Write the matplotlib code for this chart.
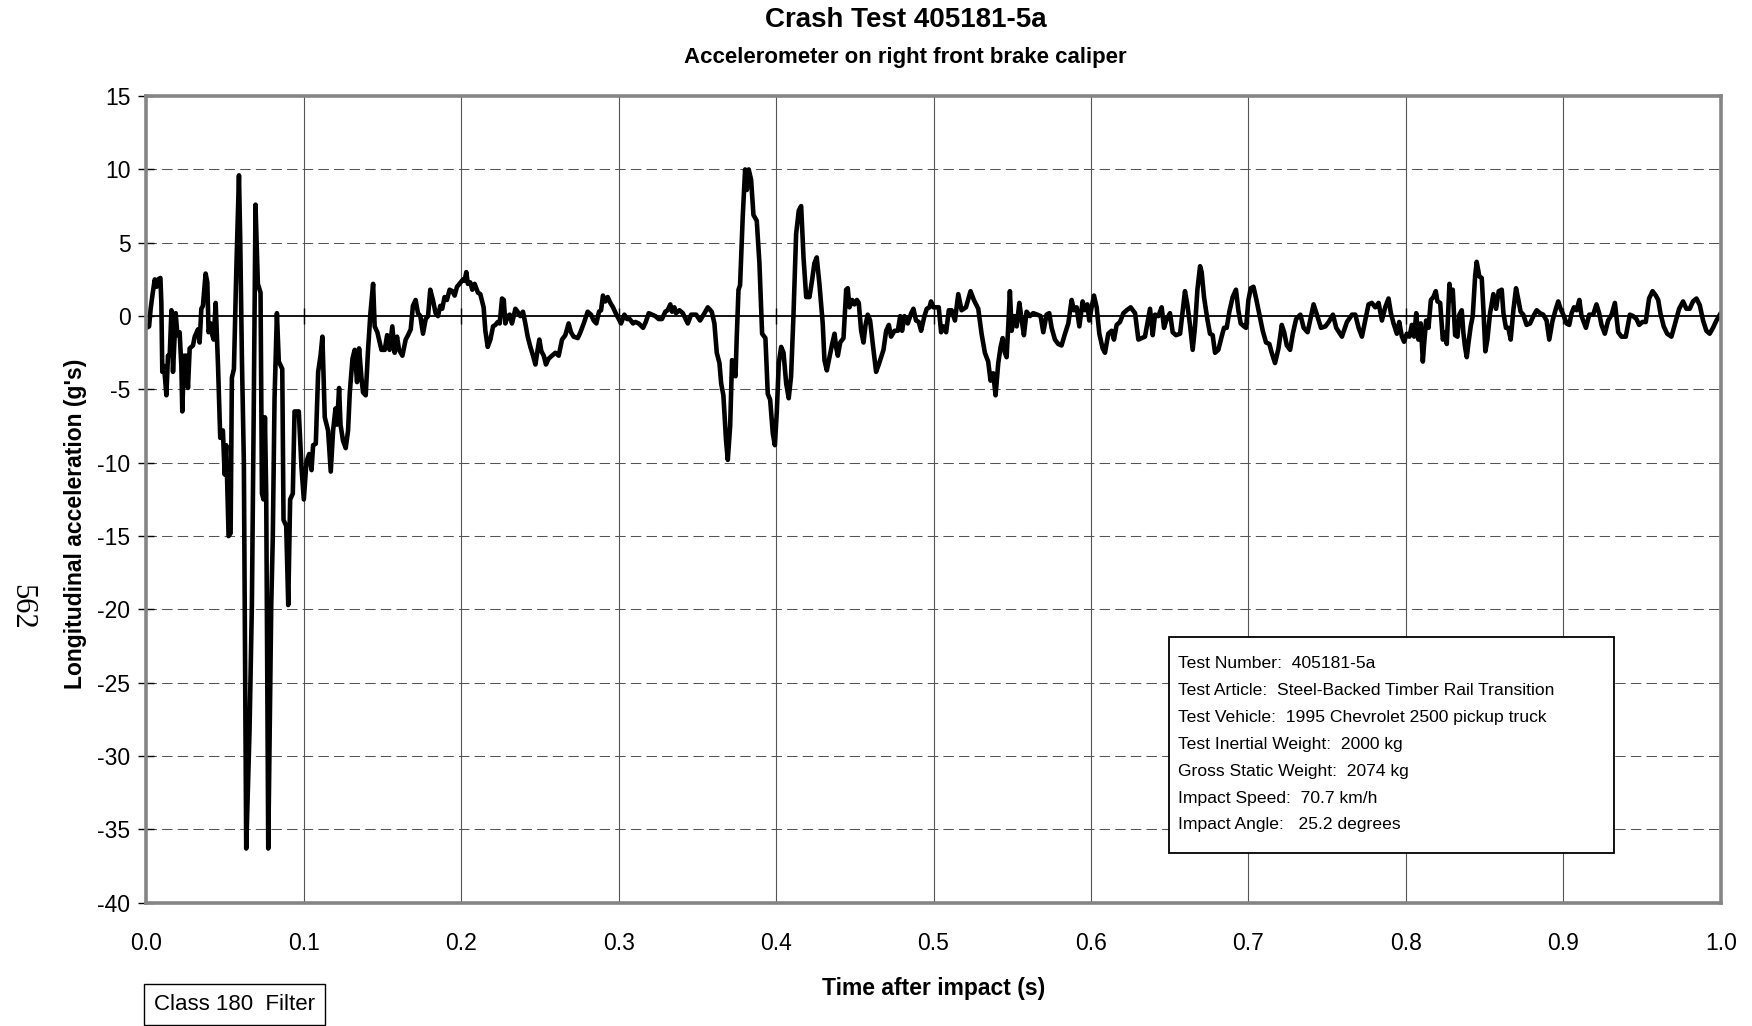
import matplotlib
matplotlib.use("Agg")
import matplotlib.pyplot as plt
from matplotlib import font_manager
from matplotlib.patches import Rectangle

plt.rcParams['font.family'] = ['Liberation Sans', 'DejaVu Sans']

# ---- data: (time s, longitudinal acceleration g) ----
seg_impact = [
    (0.0, -0.8), (.0017, -0.7), (.0027, 0.5), (.0038, 1.4), (.0053, 2.5), (.0065, 2.0),
    (.0074, 2.5), (.0089, 2.6), (.0095, 0.9), (.0101, -3.8), (.0112, -3.4), (.0127, -5.4),
    (.0137, -2.7), (.0148, -2.7), (.0159, 0.4), (.0169, -3.8), (.0186, 0.2), (.0197, -1.3),
    (.0211, -1.1), (.0222, -3.4), (.0228, -6.5), (.0239, -2.7), (.0254, -2.7), (.0264, -4.9),
    (.0275, -2.2), (.0296, -2.0), (.0307, -1.4), (.0328, -0.9), (.0338, -1.8), (.0349, 0.5),
    (.0359, 0.7), (.0376, 2.9), (.0387, 2.3), (.0395, -1.1), (.0408, -0.5), (.0419, -1.3),
    (.0427, -1.6), (.0440, 0.9), (.0455, -3.4), (.0469, -8.3), (.0486, -7.8), (.0497, -10.8),
    (.0507, -8.8), (.0522, -15.0), (.0535, -14.8), (.0543, -4.2), (.0556, -3.6), (.0571, 3.1),
    (.0588, 9.6), (.0596, 5.2), (.0607, -3.1), (.0619, -9.9), (.0634, -36.3), (.0655, -28.3),
    (.0670, -19.7), (.0681, -7.4), (.0693, 7.6), (.0708, 2.2), (.0725, 1.6), (.0734, -12.1),
    (.0744, -12.5), (.0753, -6.9), (.0761, -12.1), (.0774, -36.3), (.0793, -19.7), (.0803, -15.0),
    (.0814, -5.6), (.0829, 0.2), (.0841, -3.1), (.0863, -3.6), (.0871, -13.9), (.0888, -14.3),
    (.0901, -19.7), (.0913, -12.5), (.0930, -12.1), (.0941, -6.5), (.0968, -6.5),
]

seg_rebound = [
    (.0985, -10.3), (.1000, -12.5), (.1017, -9.9), (.1034, -9.4), (.1049, -10.5), (.1059, -8.8),
    (.1076, -8.7), (.1091, -3.8), (.1106, -2.7), (.1118, -1.4), (.1133, -6.9), (.1154, -7.8),
    (.1171, -10.6), (.1186, -7.8), (.1201, -6.3), (.1211, -7.4), (.1224, -4.9), (.1233, -7.4),
    (.1249, -8.5), (.1266, -9.0), (.1281, -7.8), (.1292, -5.2), (.1309, -2.9), (.1323, -2.3),
    (.1338, -4.5), (.1351, -2.2), (.1366, -4.2), (.1376, -5.2), (.1393, -5.4), (.1408, -2.3),
    (.1423, 0.2), (.1440, 2.2), (.1450, -0.7), (.1467, -1.1), (.1493, -2.3), (.1514, -2.3),
    (.1529, -1.3), (.1545, -2.3), (.1562, -0.7), (.1577, -2.5), (.1592, -1.4), (.1605, -2.3),
    (.1626, -2.7), (.1647, -1.6), (.1662, -1.3), (.1679, -0.9), (.1693, 0.7), (.1710, 1.1),
    (.1725, 0.2), (.1740, 0.0), (.1757, -1.2), (.1774, -0.2), (.1789, 0.0), (.1803, 1.8),
    (.1820, 1.1), (.1837, 0.2), (.1852, 0.0), (.1867, 0.7), (.1879, 0.5), (.1894, 1.3),
    (.1909, 1.1), (.1926, 1.8), (.1943, 1.7), (.1958, 1.4), (.1973, 2.0), (.1989, 2.2),
    (.2011, 2.5), (.2021, 2.4), (.2032, 3.0), (.2042, 2.2), (.2057, 2.3), (.2070, 1.8),
    (.2085, 2.2), (.2106, 1.6),
]

seg_settle = [
    (.2121, 1.5), (.2142, 0.6), (.2153, -1.0), (.2168, -2.1), (.2185, -1.6), (.2202, -0.7),
    (.2217, -0.6), (.2232, -0.4), (.2244, -0.5), (.2259, 1.2), (.2270, 1.1), (.2280, -0.5),
    (.2295, 0.0), (.2308, 0.1), (.2322, -0.5), (.2344, 0.5), (.2358, 0.3), (.2375, 0.0),
    (.2392, 0.3), (.2407, -0.5), (.2422, -1.4), (.2439, -2.1), (.2456, -2.7), (.2471, -3.3),
    (.2485, -2.3), (.2496, -1.6), (.2509, -2.4), (.2524, -2.7), (.2538, -3.3), (.2555, -2.9),
    (.2577, -2.7), (.2598, -2.5), (.2619, -2.7), (.2640, -1.6), (.2661, -1.3), (.2682, -0.5),
    (.2697, -1.1), (.2714, -1.4), (.2740, -1.5), (.2757, -1.1), (.2778, -0.5), (.2803, 0.3),
    (.2824, 0.1), (.2841, -0.3), (.2858, -0.5), (.2875, 0.3), (.2888, 0.4), (.2900, 1.4),
    (.2915, 1.0), (.2930, 1.3), (.2947, 0.9), (.2964, 0.6), (.2981, 0.2), (.3000, -0.2),
    (.3015, -0.5), (.3036, 0.1), (.3053, -0.2), (.3070, -0.2), (.3091, -0.5), (.3106, -0.4),
    (.3127, -0.5), (.3155, -0.8), (.3172, -0.4), (.3191, 0.2), (.3212, 0.1), (.3233, 0.0),
    (.3254, -0.2), (.3275, -0.2), (.3296, 0.3), (.3311, 0.4), (.3328, 0.8), (.3339, 0.3),
    (.3354, 0.6), (.3364, 0.2),
]

seg_second_hit = [
    (.3386, 0.4), (.3407, 0.2), (.3439, -0.5), (.3460, 0.1), (.3492, 0.1), (.3517, -0.3),
    (.3545, 0.2), (.3566, 0.6), (.3591, 0.3), (.3608, -0.5), (.3623, -2.5), (.3640, -3.2),
    (.3651, -4.6), (.3665, -5.4), (.3682, -8.5), (.3693, -9.8), (.3708, -7.5), (.3720, -3.0),
    (.3731, -3.5), (.3742, -4.1), (.3750, -1.4), (.3761, 1.8), (.3771, 2.1), (.3788, 6.8),
    (.3803, 10.0), (.3814, 8.6), (.3826, 10.0), (.3841, 9.3), (.3856, 6.9), (.3877, 6.5),
    (.3894, 3.6), (.3911, -1.2), (.3932, -1.5), (.3947, -5.3), (.3962, -5.7), (.3979, -8.0),
    (.3992, -8.8), (.4004, -6.6), (.4017, -3.2), (.4032, -2.1), (.4047, -2.5), (.4064, -4.6),
    (.4080, -5.6), (.4095, -4.1), (.4110, 0.0), (.4127, 5.6), (.4144, 7.2), (.4159, 7.5),
    (.4174, 4.0), (.4191, 1.3), (.4212, 1.3), (.4229, 2.5), (.4243, 3.6), (.4258, 4.0),
    (.4275, 2.2), (.4296, -0.5), (.4307, -3.0), (.4322, -3.7), (.4339, -2.8), (.4356, -1.9),
    (.4371, -1.2), (.4381, -2.1), (.4392, -2.7), (.4407, -1.8), (.4428, -1.5), (.4445, 1.8),
    (.4455, 1.9), (.4466, 0.6), (.4483, 1.1), (.4498, 0.8), (.4513, 1.1), (.4525, 0.9),
    (.4540, -1.0), (.4555, -1.8), (.4568, -0.6), (.4582, 0.1), (.4597, -0.3), (.4614, -1.9),
    (.4635, -3.8), (.4652, -3.3), (.4667, -2.8), (.4682, -2.3), (.4699, -1.0), (.4716, -0.6),
    (.4730, -1.4), (.4752, -1.0), (.4773, -1.0), (.4788, 0.0), (.4800, -1.0), (.4815, 0.0),
    (.4836, -0.5), (.4858, 0.2), (.4872, 0.5), (.4889, -0.3), (.4906, -0.4), (.4921, -1.0),
    (.4942, 0.0), (.4957, 0.5), (.4974, 0.6), (.4984, 1.0), (.5000, 0.6), (.5016, 0.6),
    (.5033, 0.6), (.5048, -1.1), (.5063, -0.7), (.5080, -1.1), (.5097, 0.4),
]

seg_middle = [
    (.5115, 0.4), (.5136, -0.3), (.5157, 1.5), (.5178, 0.4), (.5206, 0.6), (.5235, 1.7),
    (.5256, 1.1), (.5284, 0.5), (.5305, -1.2), (.5326, -2.5), (.5347, -3.1), (.5362, -4.4),
    (.5379, -3.9), (.5394, -5.4), (.5411, -3.2), (.5426, -2.1), (.5439, -1.5), (.5453, -2.5),
    (.5464, -2.8), (.5475, -0.6), (.5485, 1.7), (.5496, -1.0), (.5513, 0.0), (.5528, -0.7),
    (.5545, 0.9), (.5559, -0.2), (.5574, -1.3), (.5591, 0.3), (.5612, 0.0), (.5633, 0.2),
    (.5659, 0.1), (.5680, 0.0), (.5697, -1.1), (.5718, 0.1), (.5735, 0.2), (.5750, -0.8),
    (.5771, -1.6), (.5792, -1.9), (.5813, -2.0), (.5835, -1.2), (.5856, -0.5), (.5877, 1.1),
    (.5892, 0.4), (.5909, 0.6), (.5926, -0.7), (.5947, 1.0), (.5962, 0.4), (.5977, 0.8),
    (.5989, -0.3), (.6004, 0.6), (.6019, 1.4), (.6036, 0.6), (.6053, -1.2), (.6074, -2.2),
    (.6089, -2.5), (.6110, -1.2), (.6131, -1.0), (.6146, -1.6), (.6163, -0.6), (.6184, -0.4),
    (.6206, 0.2), (.6227, 0.4), (.6252, 0.6), (.6280, 0.2), (.6301, -1.6), (.6322, -1.5),
    (.6343, -1.4), (.6358, -0.5), (.6375, 0.5), (.6392, -1.3), (.6407, 0.1), (.6428, 0.0),
    (.6449, 0.6), (.6464, -0.8), (.6481, -0.2), (.6502, 0.2), (.6519, -1.1), (.6540, -1.3),
    (.6566, -1.2), (.6583, 0.4), (.6597, 1.7), (.6612, 0.8), (.6629, -0.6), (.6646, -2.3),
    (.6661, -0.7), (.6676, 1.8), (.6693, 3.4), (.6703, 3.0), (.6718, 1.3), (.6739, -0.2),
    (.6756, -1.2), (.6773, -1.3), (.6788, -2.5), (.6809, -2.3), (.6830, -1.4), (.6845, -0.8),
    (.6862, -0.8), (.6879, 0.3), (.6900, 1.3), (.6921, 1.8), (.6936, 0.4), (.6951, -0.5),
    (.6972, -0.7), (.6985, -0.8), (.7000, 1.1), (.7015, 1.9), (.7032, 2.0), (.7049, 1.2),
    (.7070, 0.1), (.7091, -1.0), (.7112, -1.8), (.7133, -1.9), (.7148, -2.5), (.7169, -3.2),
    (.7191, -2.2), (.7212, -0.6), (.7227, -1.1), (.7244, -2.0), (.7265, -2.3), (.7282, -1.2),
    (.7303, -0.2),
]

seg_tail = [
    (.7330, 0.1), (.7351, -0.8), (.7376, -1.1), (.7414, 0.8), (.7435, 0.1), (.7461, -0.8),
    (.7489, -0.7), (.7510, -0.4), (.7537, 0.1), (.7558, -0.8), (.7594, -1.4), (.7626, -0.4),
    (.7658, 0.1), (.7679, 0.1), (.7700, -0.8), (.7721, -1.4), (.7742, -0.3), (.7763, 0.8),
    (.7784, 0.9), (.7806, 0.6), (.7827, 0.9), (.7848, -0.3), (.7869, 0.6), (.7890, 1.2),
    (.7905, 0.2), (.7922, -0.5), (.7943, -1.2), (.7958, -0.4), (.7975, -1.4), (.7989, -1.75),
    (.8006, -1.2), (.8023, -1.4), (.8038, -0.6), (.8053, -1.4), (.8066, 0.2), (.8080, -1.6),
    (.8095, -0.5), (.8108, -3.1), (.8116, -1.9), (.8129, -0.3), (.8144, -0.8), (.8159, 1.1),
    (.8175, 1.3), (.8190, 1.7), (.8201, 1.0), (.8218, 0.9), (.8235, -1.6), (.8250, -1.1),
    (.8260, -1.9), (.8277, 2.2), (.8286, 1.1), (.8298, 1.8), (.8313, -1.3), (.8328, -1.4),
    (.8340, 0.1), (.8355, 0.4), (.8366, -1.2), (.8376, -2.1), (.8387, -2.8), (.8397, -1.9),
    (.8412, -0.7), (.8425, 0.0), (.8440, 2.7), (.8450, 3.7), (.8467, 2.7), (.8482, 2.6),
    (.8493, 0.4), (.8505, -2.4), (.8518, -1.6), (.8535, 0.2), (.8556, 1.5), (.8573, 0.5),
    (.8590, 1.7), (.8609, 1.8), (.8620, 0.2), (.8636, -0.8), (.8651, -0.8), (.8666, -1.6),
    (.8683, 0.4), (.8700, 1.9), (.8715, 1.1), (.8729, 0.3), (.8746, 0.1), (.8767, -0.6),
    (.8789, -0.5), (.8810, 0.0), (.8831, 0.4), (.8852, 0.2), (.8873, 0.1), (.8894, -0.3),
    (.8911, -1.6), (.8932, -0.3), (.8953, 0.5), (.8968, 1.0), (.8983, 0.5), (.9000, 0.1),
    (.9021, -0.5), (.9038, -0.6), (.9053, 0.2), (.9068, 0.6), (.9085, 0.4), (.9102, 1.1),
    (.9116, 0.0), (.9144, -0.8), (.9165, 0.1), (.9190, 0.1), (.9211, 0.8), (.9228, 0.2),
    (.9243, -0.6), (.9264, -1.2), (.9285, -0.3), (.9307, 0.1), (.9328, 0.9), (.9349, -1.1),
    (.9370, -1.4), (.9397, -1.4), (.9423, 0.1), (.9444, 0.0), (.9465, -0.2), (.9482, -0.6),
    (.9503, -0.4), (.9524, -0.4), (.9545, 1.2), (.9567, 1.7), (.9588, 1.4), (.9603, 1.1),
    (.9617, 0.2), (.9638, -0.7), (.9660, -1.2), (.9687, -1.4), (.9708, -0.6), (.9736, 0.5),
    (.9761, 1.0), (.9782, 0.5), (.9803, 0.5), (.9824, 1.0), (.9846, 1.2), (.9867, 0.75),
    (.9888, -0.3), (.9909, -1.0), (.9930, -1.2), (.9951, -0.8), (.9973, -0.3), (1.0, 0.2),
]

x_ticks = [0.0, 0.1, 0.2, 0.3, 0.4, 0.5, 0.6, 0.7, 0.8, 0.9, 1.0]
x_tick_labels = ["0.0", "0.1", "0.2", "0.3", "0.4", "0.5", "0.6", "0.7", "0.8", "0.9", "1.0"]
y_ticks = [15, 10, 5, 0, -5, -10, -15, -20, -25, -30, -35, -40]

info_lines = [
    "Test Number:  405181-5a",
    "Test Article:  Steel-Backed Timber Rail Transition",
    "Test Vehicle:  1995 Chevrolet 2500 pickup truck",
    "Test Inertial Weight:  2000 kg",
    "Gross Static Weight:  2074 kg",
    "Impact Speed:  70.7 km/h",
    "Impact Angle:   25.2 degrees",
]

samples = seg_impact + seg_rebound + seg_settle + seg_second_hit + seg_middle + seg_tail
time_s = [p[0] for p in samples]
accel_g = [p[1] for p in samples]

# ---- figure ----
W, H = 1752, 1026
fig = plt.figure(figsize=(W / 100, H / 100), dpi=100)
fig.patch.set_facecolor("white")

ax = fig.add_axes([146.4 / W, 1 - 902.8 / H, (1720.7 - 146.4) / W, (902.8 - 96.1) / H])
ax.set_xlim(0, 1.0)
ax.set_ylim(-40, 15)

# grid: dashed horizontals, solid verticals
for yv in y_ticks:
    if yv in (15, -40, 0):
        continue
    ax.axhline(yv, color="#555555", lw=0.75, ls=(0, (10, 5)), zorder=1)
for xv in x_ticks[1:-1]:
    ax.axvline(xv, color="#555555", lw=0.8, zorder=1)

# zero line with crossing tick marks
ax.axhline(0, color="black", lw=1.3, zorder=2)
ax.plot(x_ticks[1:-1], [0] * (len(x_ticks) - 2), ls="none", marker="|",
        markersize=12, markeredgewidth=1.0, color="black", zorder=2)

ax.plot(time_s, accel_g, color="black", lw=3.3, solid_joinstyle="round",
        solid_capstyle="round", zorder=3)

for side in ("top", "right", "bottom", "left"):
    ax.spines[side].set_color("#858585")
    ax.spines[side].set_linewidth(2.6)
    ax.spines[side].set_zorder(4)

ax.set_yticks(y_ticks)
ax.set_yticklabels([str(v) for v in y_ticks])
ax.set_xticks(x_ticks)
ax.set_xticklabels(x_tick_labels)
ax.tick_params(axis="y", direction="inout", length=11, width=1.0, color="black",
               labelsize=16.5, pad=6)
ax.tick_params(axis="x", length=0, labelsize=16.5, pad=21)

# titles and axis labels
fig.text(906 / W, 1 - 20 / H, "Crash Test 405181-5a", ha="center", va="center",
         fontsize=20, fontweight="bold")
fig.text(905 / W, 1 - 57 / H, "Accelerometer on right front brake caliper", ha="center",
         va="center", fontsize=16, fontweight="bold")
fig.text(76 / W, 1 - 523.5 / H, "Longitudinal acceleration (g's)", ha="center",
         va="center", rotation=90, fontsize=16.5, fontweight="bold")
fig.text(934 / W, 1 - 988 / H, "Time after impact (s)", ha="center", va="center",
         fontsize=16.5, fontweight="bold")

# page number
fig.text(22 / W, 1 - 607 / H, "562", ha="center", va="center", rotation=-90,
         fontsize=22, family=["Liberation Serif", "DejaVu Serif"])

# test description box
available = {f.name for f in font_manager.fontManager.ttflist}
if "Liberation Sans Narrow" in available:
    info_family, info_size = ["Liberation Sans Narrow"], 14.5
else:
    info_family, info_size = ["Liberation Sans"], 12.6

fig.patches.append(Rectangle((1168.5 / W, 1 - 852.7 / H), (1614 - 1168.5) / W,
                             (852.7 - 636.7) / H, transform=fig.transFigure,
                             facecolor="white", edgecolor="black", lw=1.3, zorder=5))
for i, line in enumerate(info_lines):
    fig.text(1178.3 / W, 1 - (663.3 + i * 26.95) / H, line, ha="left", va="center",
             fontsize=info_size, family=info_family, zorder=6)

# filter class box
fig.patches.append(Rectangle((144 / W, 1 - 1025 / H), (325 - 144) / W, (1025 - 984) / H,
                             transform=fig.transFigure, facecolor="white",
                             edgecolor="black", lw=1.0, zorder=5))
fig.text(234.5 / W, 1 - 1004 / H, "Class 180  Filter", ha="center", va="center",
         fontsize=16, zorder=6)

fig.savefig("out.png", dpi=100)
